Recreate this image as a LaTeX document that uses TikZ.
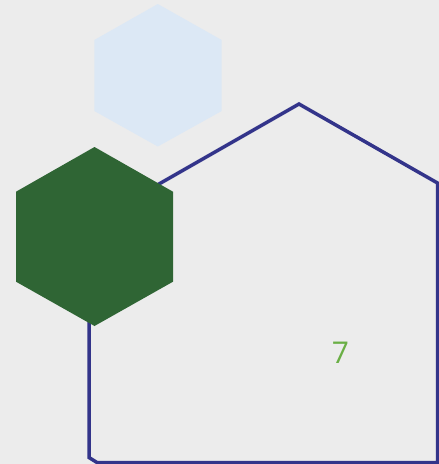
\documentclass[tikz,border=0pt]{standalone}
\usepackage{fontspec}
\setmainfont{Open Sans}
\definecolor{bgc}{HTML}{ECECEC}
\definecolor{navy}{HTML}{33348A}
\definecolor{lightblue}{HTML}{DCE8F5}
\definecolor{darkgreen}{HTML}{2F6534}
\definecolor{numgreen}{HTML}{6AAF45}
\begin{document}
\begin{tikzpicture}[x=1pt,y=-1pt,
  outline/.style={draw=navy,line width=3.5pt,line join=miter},
  label7/.style={text=numgreen,font=\fontsize{30}{32}\selectfont,inner sep=0pt}]
\fill[bgc] (0,0) rectangle (439,464);
\useasboundingbox (0,0) rectangle (439,464);
% large outlined polygon
\draw[outline] (299,104) -- (437.5,183) -- (437.5,462.5) -- (97,462.5) -- (89,457.5) -- (89,224) -- cycle;
% light blue hexagon
\fill[lightblue] (157.8,4) -- (221.7,40) -- (221.7,111) -- (157.8,146.5) -- (94.3,111) -- (94.3,40) -- cycle;
% dark green hexagon
\fill[darkgreen] (94.5,147) -- (173,191.7) -- (173,281.7) -- (94.5,326) -- (16,281.7) -- (16,191.7) -- cycle;
\node[label7] (n7) at (340.5,353) {7};
\end{tikzpicture}
\end{document}
